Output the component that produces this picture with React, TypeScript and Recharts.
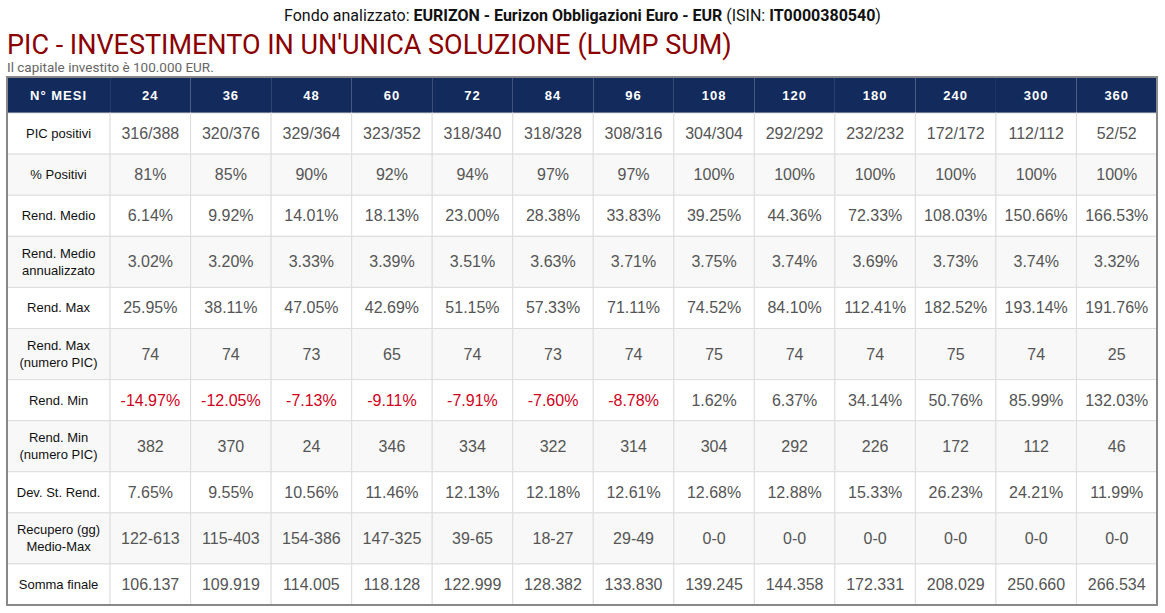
import React from 'react';
import { ComposedChart, XAxis, YAxis, ReferenceArea } from 'recharts';

// column headers (holding period in months)
const months = [24, 36, 48, 60, 72, 84, 96, 108, 120, 180, 240, 300, 360];

const picPositive = [316, 320, 329, 323, 318, 318, 308, 304, 292, 232, 172, 112, 52];
const picTotal = [388, 376, 364, 352, 340, 328, 316, 304, 292, 232, 172, 112, 52];
const pctPositive = [81, 85, 90, 92, 94, 97, 97, 100, 100, 100, 100, 100, 100];
const rendMedio = [6.14, 9.92, 14.01, 18.13, 23.0, 28.38, 33.83, 39.25, 44.36, 72.33, 108.03, 150.66, 166.53];
const rendMedioAnn = [3.02, 3.2, 3.33, 3.39, 3.51, 3.63, 3.71, 3.75, 3.74, 3.69, 3.73, 3.74, 3.32];
const rendMax = [25.95, 38.11, 47.05, 42.69, 51.15, 57.33, 71.11, 74.52, 84.1, 112.41, 182.52, 193.14, 191.76];
const rendMaxPic = [74, 74, 73, 65, 74, 73, 74, 75, 74, 74, 75, 74, 25];
const rendMin = [-14.97, -12.05, -7.13, -9.11, -7.91, -7.6, -8.78, 1.62, 6.37, 34.14, 50.76, 85.99, 132.03];
const rendMinPic = [382, 370, 24, 346, 334, 322, 314, 304, 292, 226, 172, 112, 46];
const devSt = [7.65, 9.55, 10.56, 11.46, 12.13, 12.18, 12.61, 12.68, 12.88, 15.33, 26.23, 24.21, 11.99];
const recuperoMedio = [122, 115, 154, 147, 39, 18, 29, 0, 0, 0, 0, 0, 0];
const recuperoMax = [613, 403, 386, 325, 65, 27, 49, 0, 0, 0, 0, 0, 0];
const sommaFinale = [106137, 109919, 114005, 118128, 122999, 128382, 133830, 139245, 144358, 172331, 208029, 250660, 266534];

const pct = (v: number) => v.toFixed(2) + '%';
const thousands = (v: number) => String(v).replace(/\B(?=(\d{3})+(?!\d))/g, '.');

type Cell = { text: string; neg?: boolean };
type Row = { label: string[]; cells: Cell[] };

const rows: Row[] = [
  { label: ['PIC positivi'], cells: months.map((_, i) => ({ text: `${picPositive[i]}/${picTotal[i]}` })) },
  { label: ['% Positivi'], cells: pctPositive.map((v) => ({ text: v + '%' })) },
  { label: ['Rend. Medio'], cells: rendMedio.map((v) => ({ text: pct(v) })) },
  { label: ['Rend. Medio', 'annualizzato'], cells: rendMedioAnn.map((v) => ({ text: pct(v) })) },
  { label: ['Rend. Max'], cells: rendMax.map((v) => ({ text: pct(v) })) },
  { label: ['Rend. Max', '(numero PIC)'], cells: rendMaxPic.map((v) => ({ text: String(v) })) },
  { label: ['Rend. Min'], cells: rendMin.map((v) => ({ text: pct(v), neg: v < 0 })) },
  { label: ['Rend. Min', '(numero PIC)'], cells: rendMinPic.map((v) => ({ text: String(v) })) },
  { label: ['Dev. St. Rend.'], cells: devSt.map((v) => ({ text: pct(v) })) },
  { label: ['Recupero (gg)', 'Medio-Max'], cells: recuperoMedio.map((v, i) => ({ text: `${v}-${recuperoMax[i]}` })) },
  { label: ['Somma finale'], cells: sommaFinale.map((v) => ({ text: thousands(v) })) },
];

// x in integer units (label column a bit wider than a data column), y in px-like units
const COL_W = 25;
const LABEL_W = 32;
const HEAD_H = 36;
const rowH = (r: Row) => (r.label.length > 1 ? 51 : 41);
const xMax = LABEL_W + months.length * COL_W;
const rowTops: number[] = [];
let acc = HEAD_H;
rows.forEach((r) => {
  rowTops.push(acc);
  acc += rowH(r);
});
const yMax = acc;

const colData = months.map((m, i) => ({ m, x: LABEL_W + (i + 0.5) * COL_W, y: HEAD_H / 2 }));

const NAVY = '#122a5c';
const GRID = '#dddddd';
const FONT = 'Arial, "Liberation Sans", sans-serif';

const CellShape = (props: any) => {
  const { x, y, width, height, fill, lines, color, size, bold, spacing, border } = props;
  const cx = x + width / 2;
  const cy = y + height / 2;
  const lh = 17;
  return (
    <g>
      <rect x={x} y={y} width={width} height={height} fill={fill} stroke={border ? GRID : 'none'} strokeWidth={1} />
      {lines.map((t: string, k: number) => (
        <text
          key={k}
          x={cx}
          y={cy + (k - (lines.length - 1) / 2) * lh}
          textAnchor="middle"
          dominantBaseline="central"
          fill={color}
          fontSize={size}
          fontWeight={bold ? 'bold' : 'normal'}
          fontFamily={FONT}
          style={{ letterSpacing: spacing || 0 }}
        >
          {t}
        </text>
      ))}
    </g>
  );
};

export default function App() {
  return (
    <div style={{ position: 'absolute', left: 0, top: 0, width: 1165, height: 613, background: '#fff', fontFamily: 'Roboto, sans-serif' }}>
      <div style={{ position: 'absolute', top: 6, left: 0, width: 1165, textAlign: 'center', fontSize: 16, color: '#111', whiteSpace: 'nowrap' }}>
        Fondo analizzato: <b>EURIZON - Eurizon Obbligazioni Euro - EUR</b> (ISIN: <b>IT0000380540</b>)
      </div>
      <div style={{ position: 'absolute', top: 32.3, left: 7, fontSize: 27, lineHeight: 1, color: '#8b0000', whiteSpace: 'nowrap' }}>
        PIC - INVESTIMENTO IN UN'UNICA SOLUZIONE (LUMP SUM)
      </div>
      <div style={{ position: 'absolute', top: 60.6, left: 7, fontSize: 13.5, lineHeight: 1, color: '#666', whiteSpace: 'nowrap' }}>
        Il capitale investito è 100.000 EUR.
      </div>
      <div style={{ position: 'absolute', left: 6, top: 76 }}>
        <ComposedChart width={1152} height={530} margin={{ top: 1, right: 1, bottom: 1, left: 1 }} data={colData}>
          <XAxis type="number" dataKey="x" scale="linear" domain={[0, xMax]} hide allowDataOverflow />
          <YAxis type="number" dataKey="y" scale="linear" domain={[0, yMax]} reversed hide allowDataOverflow />

          {/* header band */}
          <ReferenceArea
            x1={0}
            x2={LABEL_W}
            y1={0}
            y2={HEAD_H}
            ifOverflow="visible"
            shape={(p: any) => <CellShape {...p} fill={NAVY} lines={['N° MESI']} color="#fff" size={13} bold spacing={1} />}
          />
          {months.map((m, i) => (
            <ReferenceArea
              key={'h' + m}
              x1={LABEL_W + i * COL_W}
              x2={LABEL_W + (i + 1) * COL_W}
              y1={0}
              y2={HEAD_H}
              ifOverflow="visible"
              shape={(p: any) => <CellShape {...p} fill={NAVY} lines={[String(m)]} color="#fff" size={13} bold spacing={1} />}
            />
          ))}

          {/* body */}
          {rows.map((r, ri) => {
            const bg = ri % 2 === 1 ? '#f8f8f8' : '#ffffff';
            const y1 = rowTops[ri];
            const y2 = y1 + rowH(r);
            return (
              <React.Fragment key={'r' + ri}>
                <ReferenceArea
                  x1={0}
                  x2={LABEL_W}
                  y1={y1}
                  y2={y2}
                  ifOverflow="visible"
                  shape={(p: any) => <CellShape {...p} fill={bg} lines={r.label} color="#111" size={13} border />}
                />
                {r.cells.map((c, ci) => (
                  <ReferenceArea
                    key={'c' + ri + '-' + ci}
                    x1={LABEL_W + ci * COL_W}
                    x2={LABEL_W + (ci + 1) * COL_W}
                    y1={y1}
                    y2={y2}
                    ifOverflow="visible"
                    shape={(p: any) => (
                      <CellShape {...p} fill={bg} lines={[c.text]} color={c.neg ? '#d0021b' : '#555'} size={16} border />
                    )}
                  />
                ))}
              </React.Fragment>
            );
          })}

          {/* outer frame */}
          <ReferenceArea
            x1={0}
            x2={xMax}
            y1={0}
            y2={yMax}
            ifOverflow="visible"
            shape={(p: any) => (
              <rect x={p.x} y={p.y} width={p.width} height={p.height} fill="none" stroke="#888" strokeWidth={2} />
            )}
          />
        </ComposedChart>
      </div>
    </div>
  );
}
